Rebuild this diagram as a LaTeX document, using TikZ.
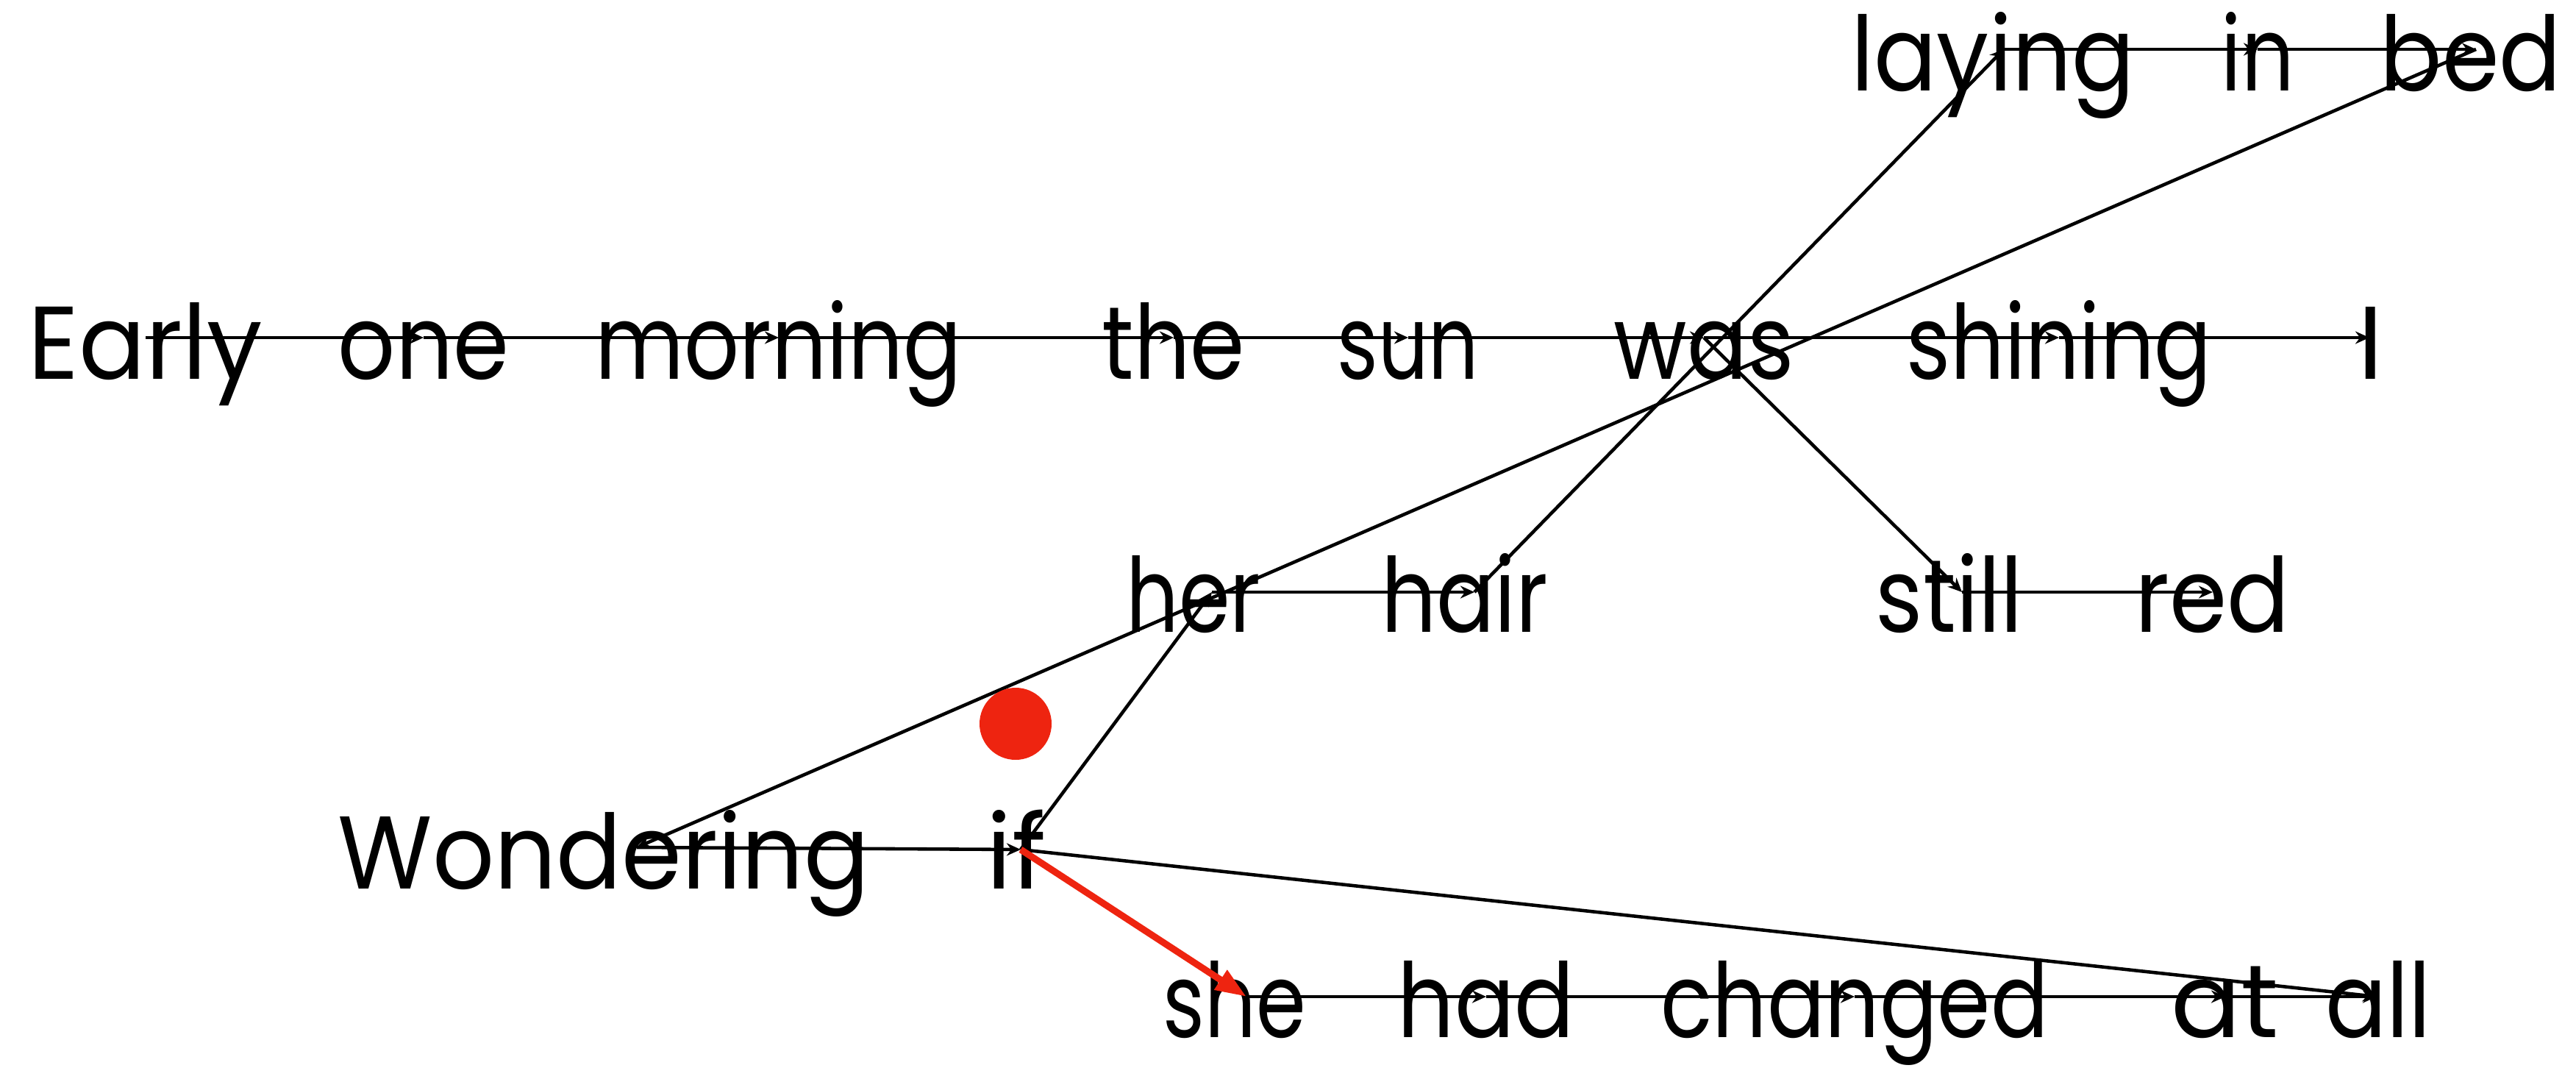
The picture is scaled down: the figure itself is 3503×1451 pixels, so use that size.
\documentclass[tikz,border=0pt]{standalone}
\usepackage{fontspec}
\setmainfont{Poppins}
\usetikzlibrary{arrows.meta}
\definecolor{redmark}{RGB}{238,36,16}
\newdimen\fitdim
\newcommand\fitw[2]{\setbox0=\hbox{#2}\fitdim=#1\relax\pgfmathsetmacro\fitfac{min(1,\the\fitdim/\the\wd0)}\scalebox{\fitfac}[1]{\box0}}
\begin{document}
\begin{tikzpicture}[x=0.01cm,y=-0.01cm,
  word/.style={anchor=base,inner sep=0pt,font=\fontsize{40}{48}\selectfont},
  link/.style={line width=1.3pt,-{Stealth[length=0.19cm,width=0.17cm]}},
  redlink/.style={line width=2.6pt,color=redmark,-{Triangle[length=0.42cm,width=0.3cm]}}]
\useasboundingbox (0,0) rectangle (3503,1451);
% words
\node[word] (wlaying) at (2710,123) {\fitw{3.85cm}{laying}};
\node[word] (win) at (3070,123) {\fitw{0.99cm}{in}};
\node[word] (wbed) at (3360,123) {\fitw{2.46cm}{bed}};
\node[word] (wEarly) at (198,515) {\fitw{3.18cm}{Early}};
\node[word] (wone) at (576,515) {\fitw{2.32cm}{one}};
\node[word] (wmorning) at (1059,515) {\fitw{4.98cm}{morning}};
\node[word] (wthe) at (1596,515) {\fitw{1.94cm}{the}};
\node[word] (wsun) at (1915,515) {\fitw{1.92cm}{sun}};
\node[word] (wwas) at (2317,515) {\fitw{2.45cm}{was}};
\node[word] (wshining) at (2800,515) {\fitw{4.15cm}{shining}};
\node[word] (wI) at (3224,515) {I};
\node[word] (wher) at (1623,859) {\fitw{1.83cm}{her}};
\node[word] (whair) at (1992,859) {\fitw{2.27cm}{hair}};
\node[word] (wstill) at (2651,859) {\fitw{2.0cm}{still}};
\node[word] (wred) at (3009,859) {\fitw{2.1cm}{red}};
\node[word] (wWondering) at (821,1208) {\fitw{7.22cm}{Wondering}};
\node[word] (wif) at (1382,1208) {\fitw{0.91cm}{if}};
\node[word] (wshe) at (1679,1410) {\fitw{1.94cm}{she}};
\node[word] (whad) at (2021,1410) {\fitw{2.4cm}{had}};
\node[word] (wchanged) at (2522,1410) {\fitw{5.27cm}{changed}};
\node[word] (wat) at (3026,1410) {\fitw{1.63cm}{at}};
\node[word] (wall) at (3234,1410) {\fitw{1.44cm}{all}};
% anchor points of the words
\coordinate (laying) at (2725,67);
\coordinate (in) at (3070,67);
\coordinate (bed) at (3367,67);
\coordinate (Early) at (198,459);
\coordinate (one) at (576,459);
\coordinate (morning) at (1059,459);
\coordinate (the) at (1596,459);
\coordinate (sun) at (1915,459);
\coordinate (was) at (2317,459);
\coordinate (shining) at (2800,459);
\coordinate (I) at (3222,459);
\coordinate (her) at (1648,805);
\coordinate (hair) at (2005,805);
\coordinate (still) at (2668,805);
\coordinate (red) at (3009,805);
\coordinate (Wondering) at (866,1152);
\coordinate (if) at (1388,1155);
\coordinate (she) at (1695,1355);
\coordinate (had) at (2021,1355);
\coordinate (changed) at (2522,1355);
\coordinate (at) at (3026,1355);
\coordinate (all) at (3232,1355);
% connectors
\draw[link] (Early) -- (one);
\draw[link] (one) -- (morning);
\draw[link] (morning) -- (the);
\draw[link] (the) -- (sun);
\draw[link] (sun) -- (was);
\draw[link] (was) -- (shining);
\draw[link] (shining) -- (I);
\draw[link] (laying) -- (in);
\draw[link] (in) -- (bed);
\draw[link] (hair) -- (laying);
\draw[link] (bed) -- (Wondering);
\draw[link] (was) -- (still);
\draw[link] (still) -- (red);
\draw[link] (her) -- (hair);
\draw[link] (if) -- (her);
\draw[link] (Wondering) -- (if);
\draw[link] (if) -- (all);
\draw[link] (she) -- (had);
\draw[link] (had) -- (changed);
\draw[link] (changed) -- (at);
\draw[link] (at) -- (all);
\draw[redlink] (if) -- (she);
\fill[redmark] (1381,984) circle[radius=49];
\end{tikzpicture}
\end{document}
